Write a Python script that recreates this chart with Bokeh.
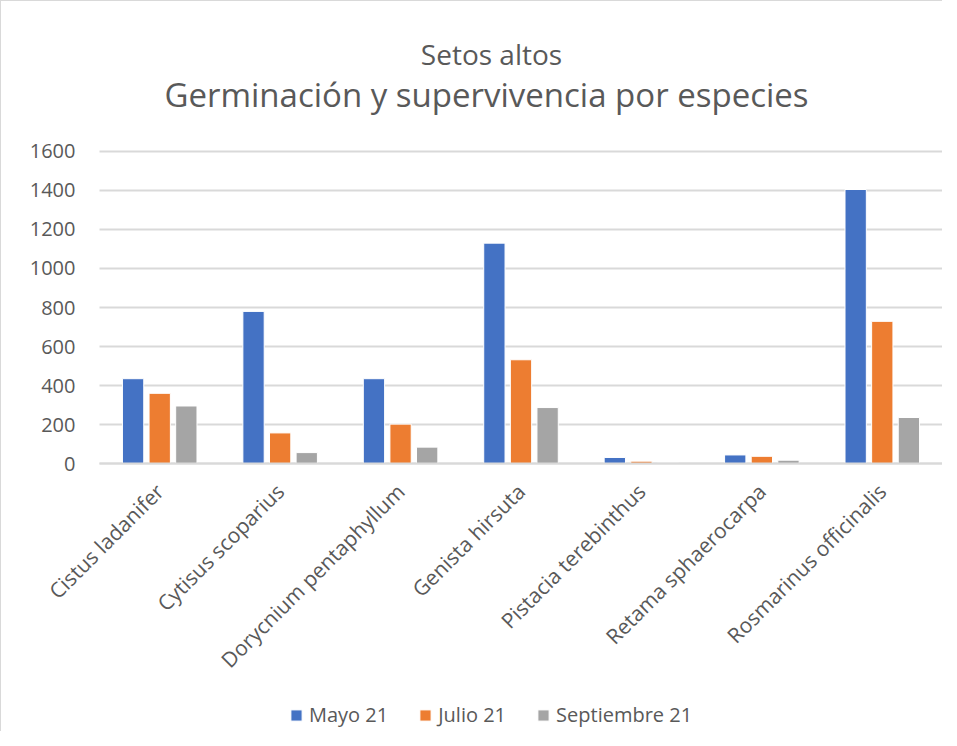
from bokeh.plotting import figure
from bokeh.models import ColumnDataSource, Range1d, Label, Legend, LegendItem, FixedTicker
from bokeh.transform import dodge
from bokeh.embed import file_html
from bokeh.resources import INLINE
import math

categories = ["Cistus ladanifer", "Cytisus scoparius", "Dorycnium pentaphyllum",
              "Genista hirsuta", "Pistacia terebinthus", "Retama sphaerocarpa",
              "Rosmarinus officinalis"]
mayo = [435, 780, 435, 1130, 31, 44, 1405]
julio = [360, 157, 202, 532, 12, 37, 729]
septiembre = [295, 56, 84, 287, 2, 17, 236]
series_names = ["Mayo 21", "Julio 21", "Septiembre 21"]
colors = ["#4472C4", "#ED7D31", "#A5A5A5"]
y_ticks = [0, 200, 400, 600, 800, 1000, 1200, 1400, 1600]
title_text = "Setos altos"
subtitle_text = "Germinación y supervivencia por especies"

FONT = "Open Sans"
TXT = "#595959"

n = len(categories)
centers = [i + 0.5 for i in range(n)]
src = ColumnDataSource(dict(x=centers, mayo=mayo, julio=julio, sept=septiembre))

# the frame covers the whole chart; category slots 0..n sit between page x 98 and 941,
# the value axis 0..1600 between page y 462 and 150
p = figure(x_range=Range1d(-0.8138, n), y_range=Range1d(-1374, 2369),
           frame_width=941, frame_height=730, output_backend="svg", toolbar_location=None,
           min_border_left=0, min_border_right=0, min_border_top=0, min_border_bottom=0)
p.outline_line_color = None
p.styles = {"border-top": "1px solid #D9D9D9", "border-left": "1px solid #D9D9D9"}

# horizontal grid lines over the category span only
p.segment(x0=[0] * len(y_ticks), x1=[n] * len(y_ticks), y0=y_ticks, y1=y_ticks,
          line_color="#D9D9D9", line_width=2)

renderers = []
for key, off, c in zip(["mayo", "julio", "sept"], [-0.221, 0.0, 0.221], colors):
    r = p.vbar(x=dodge("x", off), top=key, bottom=0, width=0.177, source=src,
               fill_color=c, line_color="white", line_width=1)
    renderers.append(r)

p.yaxis.fixed_location = 0
p.yaxis.ticker = FixedTicker(ticks=y_ticks)
p.yaxis.axis_line_color = None
p.yaxis.major_tick_line_color = None
p.yaxis.minor_tick_line_color = None
p.yaxis.major_label_text_font = FONT
p.yaxis.major_label_text_font_size = "20px"
p.yaxis.major_label_text_color = TXT
p.yaxis.major_label_standoff = 18

p.xaxis.fixed_location = 0
p.xaxis.bounds = (0, n)
p.xaxis.ticker = FixedTicker(ticks=centers)
p.xaxis.major_label_overrides = {c: name for c, name in zip(centers, categories)}
p.xaxis.axis_line_color = "#D9D9D9"
p.xaxis.axis_line_width = 2
p.xaxis.major_tick_line_color = None
p.xaxis.minor_tick_line_color = None
p.xaxis.major_label_orientation = math.pi / 4
p.xaxis.major_label_text_font = FONT
p.xaxis.major_label_text_font_size = "21px"
p.xaxis.major_label_text_color = TXT
p.xaxis.major_label_standoff = 18

p.xgrid.grid_line_color = None
p.ygrid.grid_line_color = None

p.add_layout(Label(x=490, y=678, x_units="screen", y_units="screen", text=title_text,
                   text_align="center", text_baseline="middle", text_font=FONT,
                   text_font_size="28px", text_color=TXT))
p.add_layout(Label(x=485, y=637, x_units="screen", y_units="screen", text=subtitle_text,
                   text_align="center", text_baseline="middle", text_font=FONT,
                   text_font_size="33px", text_color=TXT))

legend = Legend(items=[LegendItem(label=s, renderers=[r]) for s, r in zip(series_names, renderers)],
                orientation="horizontal", location=(288, 3),
                label_text_font=FONT, label_text_font_size="20px", label_text_color=TXT,
                glyph_width=14, glyph_height=14, spacing=30, border_line_color=None,
                background_fill_alpha=0, padding=0, margin=0, label_standoff=6)
p.add_layout(legend, "center")

open("out.html", "w").write(file_html(p, INLINE))
